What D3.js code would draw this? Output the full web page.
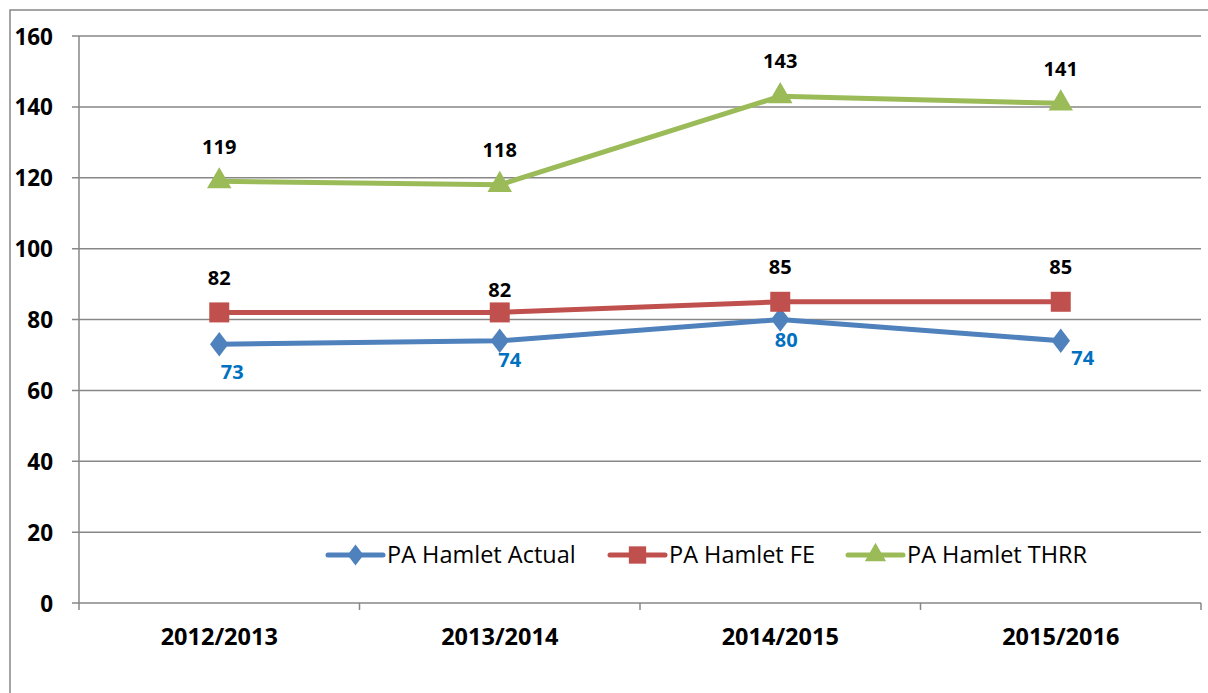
<!DOCTYPE html>
<html>
<head>
<meta charset="utf-8">
<script src="https://cdn.jsdelivr.net/npm/d3@7"></script>
<style>
  body { margin: 0; background: #fff; }
  svg { display: block; }
  .yaxis text { font-family: "Open Sans", sans-serif; font-weight: bold; font-size: 22.5px; fill: #000; }
  .xaxis text { font-family: "Open Sans", sans-serif; font-weight: bold; font-size: 23.5px; fill: #000; }
  .legend text { font-family: "Open Sans", sans-serif; font-size: 23.5px; fill: #000; }
  .dlabel { font-family: "Open Sans", sans-serif; font-weight: bold; font-size: 20px; }
</style>
</head>
<body>
<div id="chart"></div>
<script>
// data
let years = ["2012/2013", "2013/2014", "2014/2015", "2015/2016"];
let actual = [73, 74, 80, 74];
let fe = [82, 82, 85, 85];
let thrr = [119, 118, 143, 141];
let yTicks = [0, 20, 40, 60, 80, 100, 120, 140, 160];
let seriesNames = ["PA Hamlet Actual", "PA Hamlet FE", "PA Hamlet THRR"];

// label nudges (dx, dy from the point), as placed in the original
let labelNudge = {
    actual: [[13, 27], [10, 19], [6, 20], [22, 17]],
    fe: [[0, -35], [0, -23], [0, -35], [0, -35]],
    thrr: [[0, -34], [0, -35], [0, -35], [0, -35]]
};

let svgWidth = 1208;
let svgHeight = 693;
let plot = { left: 79, right: 1201, top: 36, bottom: 603 };

let svg = d3.select("#chart")
    .append("svg")
    .attr("width", svgWidth)
    .attr("height", svgHeight);

// outer chart border (right/bottom edges fall outside the picture)
svg.append("rect")
    .attr("x", 10).attr("y", 10)
    .attr("width", 1300).attr("height", 800)
    .attr("fill", "none")
    .attr("stroke", "#868686")
    .attr("stroke-width", 1.5);

let x = d3.scaleBand()
    .domain(years)
    .range([plot.left, plot.right])
    .padding(0);

let y = d3.scaleLinear()
    .domain([0, 160])
    .range([plot.bottom, plot.top]);

let cx = d => x(d) + x.bandwidth() / 2;

// gridlines
svg.append("g").selectAll("line")
    .data(yTicks)
    .enter()
    .append("line")
    .attr("x1", plot.left - 7)
    .attr("x2", plot.right)
    .attr("y1", d => y(d))
    .attr("y2", d => y(d))
    .attr("stroke", "#878787")
    .attr("stroke-width", 1.5);

// y axis labels
let leftAxis = d3.axisLeft(y).tickValues(yTicks).tickSize(0).tickPadding(0);
let yAxisG = svg.append("g")
    .attr("class", "yaxis")
    .attr("transform", `translate(53, 0)`)
    .call(leftAxis);
yAxisG.select(".domain").remove();
yAxisG.selectAll("text").attr("dy", "0.36em");

// vertical axis line
svg.append("line")
    .attr("x1", plot.left).attr("x2", plot.left)
    .attr("y1", plot.top).attr("y2", plot.bottom + 7)
    .attr("stroke", "#878787")
    .attr("stroke-width", 1.5);

// x tick marks at category boundaries
let bounds = years.map(d => x(d)).concat([plot.right]);
svg.append("g").selectAll("line")
    .data(bounds.slice(1))
    .enter()
    .append("line")
    .attr("x1", d => d).attr("x2", d => d)
    .attr("y1", plot.bottom).attr("y2", plot.bottom + 7)
    .attr("stroke", "#878787")
    .attr("stroke-width", 1.5);

// x labels
let bottomAxis = d3.axisBottom(x).tickSize(0).tickPadding(0);
let xAxisG = svg.append("g")
    .attr("class", "xaxis")
    .attr("transform", `translate(0, 637)`)
    .call(bottomAxis);
xAxisG.select(".domain").remove();
xAxisG.selectAll("text").attr("dy", "0.36em");

let series = [
    { key: "actual", name: seriesNames[0], values: actual, color: "#4F81BD", labelColor: "#0070C0", symbol: d3.symbolDiamond, size: 190 },
    { key: "fe", name: seriesNames[1], values: fe, color: "#C0504D", labelColor: "#000", symbol: d3.symbolSquare, size: 400 },
    { key: "thrr", name: seriesNames[2], values: thrr, color: "#9BBB59", labelColor: "#000", symbol: d3.symbolTriangle, size: 260 }
];

let line = d3.line()
    .x((d, i) => cx(years[i]))
    .y(d => y(d));

series.forEach(function (s) {
    let g = svg.append("g");
    g.append("path")
        .attr("d", line(s.values))
        .attr("fill", "none")
        .attr("stroke", s.color)
        .attr("stroke-width", 5)
        .attr("stroke-linejoin", "round");

    g.selectAll("path.marker")
        .data(s.values)
        .enter()
        .append("path")
        .attr("class", "marker")
        .attr("d", d3.symbol().type(s.symbol).size(s.size))
        .attr("transform", (d, i) => {
            let sy = s.symbol === d3.symbolDiamond ? "scale(1.25,0.95)" : "";
            return `translate(${cx(years[i])}, ${y(d)}) ${sy}`;
        })
        .attr("fill", s.color);

    g.selectAll("text")
        .data(s.values)
        .enter()
        .append("text")
        .attr("class", "dlabel")
        .attr("x", (d, i) => cx(years[i]) + labelNudge[s.key][i][0])
        .attr("y", (d, i) => y(d) + labelNudge[s.key][i][1])
        .attr("dy", "0.36em")
        .attr("text-anchor", "middle")
        .attr("fill", s.labelColor)
        .text(d => d);
});

// legend
let legendX = [328, 610, 848];
let legend = svg.append("g").attr("class", "legend");
series.forEach(function (s, i) {
    let lg = legend.append("g").attr("transform", `translate(${legendX[i]}, 555)`);
    lg.append("line")
        .attr("x1", 0).attr("x2", 55)
        .attr("y1", 0).attr("y2", 0)
        .attr("stroke", s.color)
        .attr("stroke-width", 5)
        .attr("stroke-linecap", "round");
    lg.append("path")
        .attr("d", d3.symbol().type(s.symbol).size(s.size * 0.75))
        .attr("transform", s.symbol === d3.symbolDiamond ? "translate(27.5,0) scale(1.25,0.95)" : "translate(27.5,0)")
        .attr("fill", s.color);
    lg.append("text")
        .attr("x", 59)
        .attr("y", 0)
        .attr("dy", "0.36em")
        .text(s.name);
});
</script>
</body>
</html>
